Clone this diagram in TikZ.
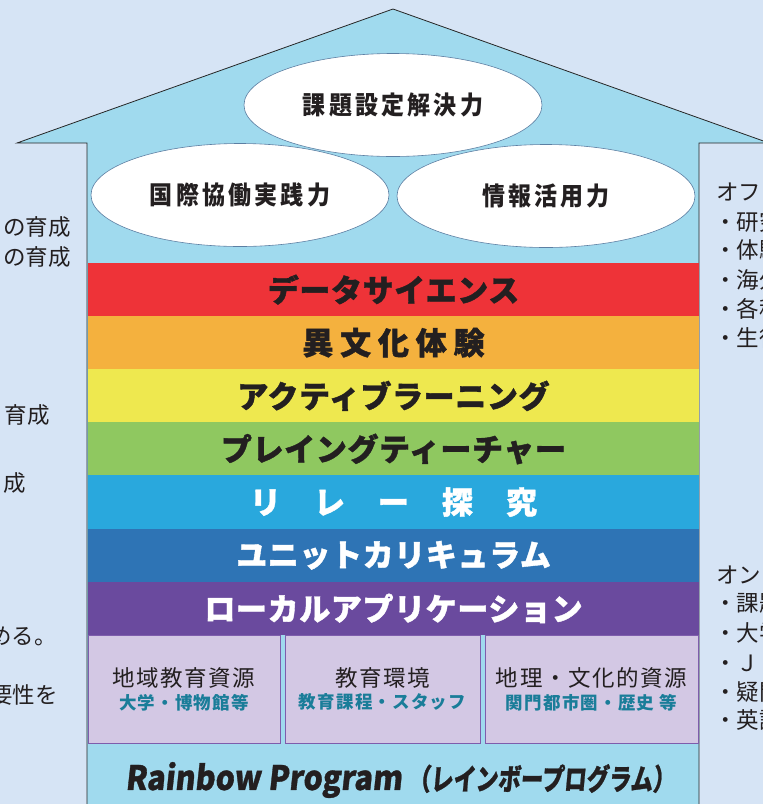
\documentclass[tikz,border=0pt]{standalone}
\usepackage{graphicx}
\usepackage{fontspec}
\setmainfont{Noto Sans CJK JP}
\newfontfamily\jpsl[BoldFeatures={FakeSlant=0.12,FakeBold=1}]{Noto Sans CJK JP}
\newfontfamily\jph[BoldFeatures={FakeBold=1.3}]{Noto Sans CJK JP}
\usetikzlibrary{shapes.geometric}
\definecolor{bgc}{HTML}{D6E4F5}
\definecolor{housec}{HTML}{A0DAEE}
\definecolor{cA}{HTML}{EE3338}
\definecolor{cB}{HTML}{F4B13E}
\definecolor{cC}{HTML}{EEE84F}
\definecolor{cD}{HTML}{8FC860}
\definecolor{cE}{HTML}{29A8DD}
\definecolor{cF}{HTML}{2E74B5}
\definecolor{cG}{HTML}{6A4A9E}
\definecolor{lav}{HTML}{D3C8E4}
\definecolor{lavedge}{HTML}{7E5DAC}
\definecolor{tealt}{HTML}{1A7D99}
\definecolor{ink}{HTML}{231F20}
\definecolor{ellc}{HTML}{5C7FA3}
\begin{document}
\begin{tikzpicture}[x=1pt,y=-1pt,
  every node/.style={text=ink},
  stripe/.style={minimum width=611pt, minimum height=53.6pt, inner sep=0pt,
    font=\jph\bfseries\fontsize{31}{31}\selectfont\addfontfeatures{LetterSpace=2}},
  ellnode/.style={ellipse, draw=ellc, fill=white, line width=0.6pt,
    minimum width=298pt, minimum height=103pt, inner sep=0pt,
    font=\bfseries\fontsize{23}{23}\selectfont\addfontfeatures{LetterSpace=14}},
  resbox/.style={draw=lavedge, fill=lav, line width=0.8pt, minimum height=108pt,
    inner sep=0pt, align=center},
  side/.style={font=\fontsize{22.5}{22.5}\selectfont, inner sep=0pt},
  housewall/.style={draw=black!85, line width=0.8pt}
]
\useasboundingbox (0,0) rectangle (763,804);
\fill[bgc] (0,0) rectangle (763,804);
% house
\fill[housec] (87,810) -- (87,143) -- (17,143) -- (393,9) -- (769,143) -- (699,143) -- (699,810) -- cycle;
\draw[housewall] (87,810) -- (87,143) -- (17,143) -- (393,9) -- (769,143) -- (699,143) -- (699,810);
% ellipses
\node[ellnode] (e2) at (240,195) {\scalebox{1}[1.1]{国際協働実践力}};
\node[ellnode] (e3) at (546,196) {\scalebox{1}[1.1]{情報活用力}};
\node[ellnode] (e1) at (393,105) {\scalebox{1}[1.1]{課題設定解決力}};
% stripes
\node[stripe, fill=cA] (s1) at (393.5,289.6) {データサイエンス};
\node[stripe, fill=cB] (s2) at (393.5,342.7) {\addfontfeatures{LetterSpace=22}異文化体験};
\node[stripe, fill=cC] (s3) at (393.5,395.9) {アクティブラーニング};
\node[stripe, fill=cD] (s4) at (393.5,449.0) {プレイングティーチャー};
\node[stripe, fill=cE, text=white] (s5) at (393.5,502.1) {リ\hspace{33pt}レ\hspace{33pt}ー\hspace{33pt}探\hspace{33pt}究};
\node[stripe, fill=cF, text=white] (s6) at (393.5,555.3) {ユニットカリキュラム};
\node[stripe, fill=cG, text=white] (s7) at (393.5,608.4) {ローカルアプリケーション};
% resource boxes
\node[resbox, minimum width=192pt] (b1) at (184,689) {{\fontsize{22.5}{26}\selectfont\addfontfeatures{LetterSpace=7}地域教育資源}\\[5pt]{\color{tealt}\bfseries\fontsize{17.5}{20}\selectfont\addfontfeatures{LetterSpace=7}大学・博物館等}};
\node[resbox, minimum width=195pt] (b2) at (382.5,689) {{\fontsize{22.5}{26}\selectfont\addfontfeatures{LetterSpace=7}教育環境}\\[5pt]{\color{tealt}\bfseries\fontsize{17.5}{20}\selectfont\addfontfeatures{LetterSpace=7}教育課程・スタッフ}};
\node[resbox, minimum width=213pt] (b3) at (591.5,689) {{\fontsize{22.5}{26}\selectfont\addfontfeatures{LetterSpace=7}地理・文化的資源}\\[5pt]{\color{tealt}\bfseries\fontsize{17.5}{20}\selectfont\addfontfeatures{LetterSpace=7}関門都市圏・歴史 等}};
% base
\node (rb) at (400,780) {\jpsl\bfseries\scalebox{0.95}[1.05]{\fontsize{32}{32}\selectfont Rainbow Program}\hspace{6pt}\scalebox{0.8}[1.05]{\fontsize{28}{28}\selectfont （レインボープログラム）}};
% left side texts
\node[side, anchor=east] (l1) at (71,227) {の育成};
\node[side, anchor=east] (l2) at (71,257) {の育成};
\node[side, anchor=east] (l3) at (50,415) {育成};
\node[side, anchor=east] (l4) at (26,483) {成};
\node[side, anchor=east] (l5) at (57,636) {める。};
\node[side, anchor=east] (l6) at (14,667) {、};
\node[side, anchor=east] (l7) at (58,695) {要性を};
% right side texts
\node[side, anchor=west] (r0) at (716,192) {オフライン};
\node[side, anchor=west] (r1) at (714,222) {・研究};
\node[side, anchor=west] (r2) at (714,250) {・体験};
\node[side, anchor=west] (r3) at (714,280) {・海外};
\node[side, anchor=west] (r4) at (714,309) {・各種};
\node[side, anchor=west] (r5) at (714,338) {・生徒};
\node[side, anchor=west] (q0) at (716,575) {オンライン};
\node[side, anchor=west] (q1) at (714,603) {・課題};
\node[side, anchor=west] (q2) at (714,633) {・大学};
\node[side, anchor=west] (q3) at (714,663) {・Ｊ};
\node[side, anchor=west] (q4) at (714,692) {・疑問};
\node[side, anchor=west] (q5) at (714,720) {・英語};
\end{tikzpicture}
\end{document}
